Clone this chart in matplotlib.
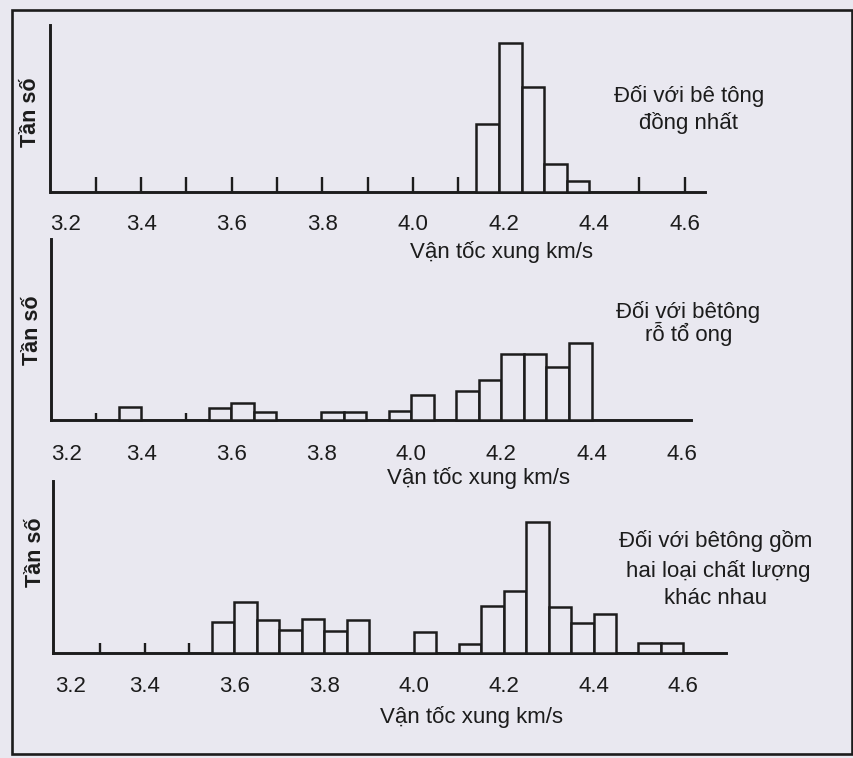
import matplotlib
matplotlib.use("Agg")
import matplotlib.pyplot as plt
from matplotlib.patches import Rectangle

plt.rcParams['font.family'] = ['Liberation Sans', 'DejaVu Sans']

# data (bin left edges, km/s, and bar heights in arbitrary frequency units)
bins1 = [4.14, 4.19, 4.24, 4.29, 4.34]
freq1 = [6.8, 14.9, 10.5, 2.8, 1.1]

bins2 = [3.35, 3.55, 3.60, 3.65, 3.80, 3.85, 3.95, 4.00,
         4.10, 4.15, 4.20, 4.25, 4.30, 4.35]
freq2 = [1.3, 1.2, 1.7, 0.8, 0.8, 0.8, 0.9, 2.5,
         2.9, 4.0, 6.6, 6.6, 5.3, 7.7]

bins3 = [3.55, 3.60, 3.65, 3.70, 3.75, 3.80, 3.85, 4.00,
         4.10, 4.15, 4.20, 4.25, 4.30, 4.35, 4.40, 4.50, 4.55]
freq3 = [3.1, 5.1, 3.3, 2.3, 3.4, 2.2, 3.3, 2.1,
         0.9, 4.7, 6.2, 13.1, 4.6, 3.0, 3.9, 1.0, 1.0]

tick_vals = [3.2, 3.4, 3.6, 3.8, 4.0, 4.2, 4.4, 4.6]
tick_labels = ['3.2', '3.4', '3.6', '3.8', '4.0', '4.2', '4.4', '4.6']
minor1 = [3.3, 3.4, 3.5, 3.6, 3.7, 3.8, 3.9, 4.0, 4.1, 4.5, 4.6]
minor2 = [3.3, 3.5]
minor3 = [3.3, 3.4, 3.5]

titles = [["Đối với bê tông", "đồng nhất"],
          ["Đối với bêtông", "rỗ tổ ong"],
          ["Đối với bêtông gồm", "hai loại chất lượng", "khác nhau"]]
xlabel = "Vận tốc xung km/s"
ylabel = "Tần số"

W, H = 854, 758
bg = '#e9e8f0'
ink = '#1c1c1c'
fs = 16

fig = plt.figure(figsize=(W / 100, H / 100), dpi=100, facecolor=bg)


def px_axes(l, t, r, b):
    return fig.add_axes([l / W, 1 - b / H, (r - l) / W, (b - t) / H])


def ftext(x, y, s, **kw):
    kw.setdefault('fontsize', fs)
    fig.text(x / W, 1 - y / H, s, color=ink, **kw)


panels = [
    dict(box=(50.5, 25, 705, 191.7), xlim=(3.2, 4.645), ylim=16.67,
         bins=bins1, freq=freq1, minor=minor1, tlen=10.5, pad=16),
    dict(box=(51.0, 239.3, 690.6, 420), xlim=(3.2, 4.62), ylim=18.07,
         bins=bins2, freq=freq2, minor=minor2, tlen=5, pad=17),
    dict(box=(53.0, 480.7, 726, 652.7), xlim=(3.196, 4.695), ylim=17.2,
         bins=bins3, freq=freq3, minor=minor3, tlen=7.5, pad=17),
]

for p in panels:
    ax = px_axes(*p['box'])
    ax.set_facecolor('none')
    ax.bar(p['bins'], p['freq'], width=0.05, align='edge', facecolor=bg,
           edgecolor=ink, linewidth=1.8, zorder=3, clip_on=False)
    ax.set_xlim(*p['xlim'])
    ax.set_ylim(0, p['ylim'])
    for s in ['top', 'right']:
        ax.spines[s].set_visible(False)
    for s in ['left', 'bottom']:
        ax.spines[s].set_linewidth(2.1)
        ax.spines[s].set_color(ink)
    ax.set_yticks([])
    ax.xaxis.remove_overlapping_locs = False
    ax.set_xticks(tick_vals)
    ax.set_xticklabels(tick_labels, fontsize=fs, color=ink)
    ax.get_xticklabels()[0].set_ha('left')
    ax.set_xticks(p['minor'], minor=True)
    ax.tick_params(axis='x', which='major', length=0, pad=p['pad'])
    ax.tick_params(axis='x', which='minor', direction='in',
                   length=p['tlen'], width=1.7, color=ink)

# panel texts
ftext(689, 102, titles[0][0], ha='center', va='baseline')
ftext(689, 129, titles[0][1], ha='center', va='baseline')
ftext(688, 318, titles[1][0], ha='center', va='baseline')
ftext(689, 341, titles[1][1], ha='center', va='baseline')
ftext(716, 547, titles[2][0], ha='center', va='baseline')
ftext(718, 577, titles[2][1], ha='center', va='baseline')
ftext(716, 604, titles[2][2], ha='center', va='baseline')

ftext(502, 258, xlabel, ha='center', va='baseline')
ftext(479, 484, xlabel, ha='center', va='baseline')
ftext(472, 723, xlabel, ha='center', va='baseline')

ftext(31, 112, ylabel, rotation=90, ha='center', va='center',
      fontsize=15.5, fontweight='bold')
ftext(33, 330, ylabel, rotation=90, ha='center', va='center',
      fontsize=15.5, fontweight='bold')
ftext(36, 552, ylabel, rotation=90, ha='center', va='center',
      fontsize=15.5, fontweight='bold')

# outer frame
fig.patches.append(Rectangle((11.7 / W, 1 - 754 / H), (852 - 11.7) / W,
                             (754 - 10) / H, transform=fig.transFigure,
                             fill=False, edgecolor=ink, linewidth=1.9))

fig.savefig('out.png', dpi=100, facecolor=bg)
